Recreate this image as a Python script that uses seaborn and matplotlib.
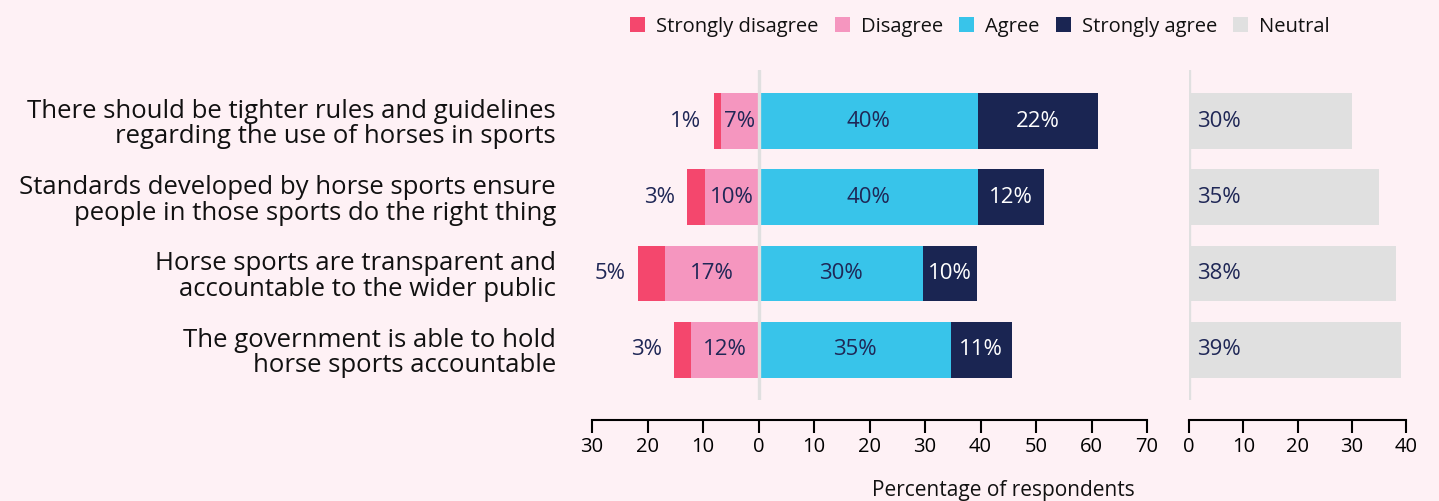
import matplotlib
matplotlib.use("Agg")
import matplotlib.pyplot as plt
from matplotlib.patches import Patch
from matplotlib.ticker import FixedLocator, FixedFormatter
import seaborn as sns
import pandas as pd

# ---------------- data ----------------
statements = [
    "There should be tighter rules and guidelines\nregarding the use of horses in sports",
    "Standards developed by horse sports ensure\npeople in those sports do the right thing",
    "Horse sports are transparent and\naccountable to the wider public",
    "The government is able to hold\nhorse sports accountable",
]
strongly_disagree = [1.3, 3.2, 5.0, 3.1]
disagree = [6.8, 9.7, 16.8, 12.1]
agree = [39.5, 39.6, 29.7, 34.6]
strongly_agree = [21.6, 11.9, 9.7, 11.0]
neutral = [30.0, 35.0, 38.1, 39.0]

legend_labels = ["Strongly disagree", "Disagree", "Agree", "Strongly agree", "Neutral"]
left_ticks = [-30, -20, -10, 0, 10, 20, 30, 40, 50, 60, 70]
right_ticks = [0, 10, 20, 30, 40]
xlabel = "Percentage of respondents"

# ---------------- style ----------------
BG = "#fef1f5"
C_SD = "#f4476d"
C_D = "#f596bf"
C_A = "#38c4ea"
C_SA = "#1a2552"
C_N = "#e0e0e0"
TXT = "#1f2756"

sns.set_style("white")
plt.rcParams["font.family"] = ["Open Sans", "DejaVu Sans"]

df = pd.DataFrame({
    "statement": statements,
    "sd": strongly_disagree,
    "d": disagree,
    "a": agree,
    "sa": strongly_agree,
    "n": neutral,
})
df["neg_total"] = -(df["sd"] + df["d"])
df["neg_d"] = -df["d"]
df["pos_total"] = df["a"] + df["sa"]

fig = plt.figure(figsize=(14.39, 5.01), dpi=100, facecolor=BG)
ax1 = fig.add_axes([0.4114, 0.2016, 0.3857, 0.6587])
ax2 = fig.add_axes([0.8263, 0.2016, 0.1508, 0.6587])
for ax in (ax1, ax2):
    ax.set_facecolor(BG)

W = 0.73
common = dict(y="statement", orient="h", width=W, saturation=1,
              errorbar=None, linewidth=0, order=statements)
sns.barplot(data=df, x="neg_total", color=C_SD, ax=ax1, **common)
sns.barplot(data=df, x="neg_d", color=C_D, ax=ax1, **common)
sns.barplot(data=df, x="pos_total", color=C_SA, ax=ax1, **common)
sns.barplot(data=df, x="a", color=C_A, ax=ax1, **common)
sns.barplot(data=df, x="n", color=C_N, ax=ax2, **common)

# value labels
fs_val = 16
for i, row in df.iterrows():
    ax1.text(row["neg_total"] - 5, i, f"{round(row['sd'])}%", ha="center", va="center",
             fontsize=fs_val, color=TXT)
    ax1.text(-row["d"] / 2, i, f"{round(row['d'])}%", ha="center", va="center",
             fontsize=fs_val, color=TXT)
    ax1.text(row["a"] / 2, i, f"{round(row['a'])}%", ha="center", va="center",
             fontsize=fs_val, color=TXT)
    ax1.text(row["a"] + row["sa"] / 2, i, f"{round(row['sa'])}%", ha="center", va="center",
             fontsize=fs_val, color="white")
    ax2.annotate(f"{round(row['n'])}%", xy=(0, i), xytext=(6, 0), textcoords="offset points",
                 ha="left", va="center", fontsize=fs_val, color=TXT)

for ax, lims, ticks in ((ax1, (-30, 70), left_ticks), (ax2, (0, 40), right_ticks)):
    ax.set_xlim(*lims)
    ax.set_ylim(3.66, -0.67)
    ax.axvline(0, color=C_N, lw=2.4, zorder=5)
    for s in ("top", "right", "left"):
        ax.spines[s].set_visible(False)
    ax.spines["bottom"].set_position(("outward", 14.4))
    ax.spines["bottom"].set_color("black")
    ax.spines["bottom"].set_linewidth(1.5)
    ax.xaxis.set_major_locator(FixedLocator(ticks))
    ax.xaxis.set_major_formatter(FixedFormatter([str(abs(t)) for t in ticks]))
    ax.tick_params(axis="x", bottom=True, length=9, width=1.5, color="black",
                   labelsize=14.5, labelcolor="black", pad=3)
    ax.set_xlabel("")
    ax.set_ylabel("")

ax1.tick_params(axis="y", left=False, length=0, pad=26, labelsize=18.5, labelcolor="#111111")
for lbl in ax1.get_yticklabels():
    lbl.set_horizontalalignment("right")
    lbl.set_linespacing(1.02)
ax2.set_yticks([])

fig.text(0.697, 0.020, xlabel, ha="center", va="center", fontsize=15, color="#111111")

handles = [Patch(facecolor=c, edgecolor="none") for c in (C_SD, C_D, C_A, C_SA, C_N)]
fig.legend(handles, legend_labels, loc="center", bbox_to_anchor=(0.681, 0.947), ncol=5,
           frameon=False, fontsize=14.5, handlelength=0.75, handleheight=0.75,
           handletextpad=0.55, columnspacing=0.8, labelcolor="#111111")

fig.savefig("out.png", dpi=100, facecolor=BG)
